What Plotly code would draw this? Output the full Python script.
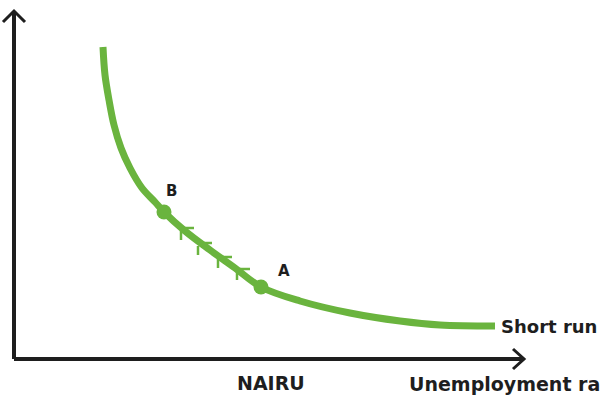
import plotly.graph_objects as go

H = 400
# Short-run Phillips curve (x: unemployment position, y: inflation position)
curve_x = [103, 105, 109, 114, 121, 130, 142, 155, 164, 185, 210, 235, 261, 300, 350, 400, 440, 495]
curve_y_px = [47, 75, 100, 125, 148, 168, 188, 202, 212, 231, 250, 268, 287, 301, 313, 321, 325, 326]
curve_y = [H - v for v in curve_y_px]

# Points on the curve
pt_labels = ["B", "A"]
pt_x = [164, 261]
pt_y = [H - 212, H - 287]

# Small direction marks between B and A
mark_v_x = [181, 198, 218, 237]
mark_v_top = [231, 246, 259, 271]
mark_v_bot = [240, 255, 268, 280]
mark_h_x0 = [184, 202, 222, 240]
mark_h_x1 = [194, 212, 232, 250]
mark_h_y = [228, 243, 257, 269]

# Axes
yaxis_x = [14, 14]
yaxis_y = [H - 359, H - 12]
xaxis_x = [14, 524]
xaxis_y = [H - 359, H - 359]
yarrow_x = [3, 14, 25]
yarrow_y = [H - 22, H - 11, H - 22]
xarrow_x = [513, 524, 513]
xarrow_y = [H - 349, H - 359, H - 369]

green = "#6ab43e"
dark = "#1e1e1e"

fig = go.Figure()

fig.add_trace(go.Scatter(x=yaxis_x, y=yaxis_y, mode="lines", line=dict(color=dark, width=4)))
fig.add_trace(go.Scatter(x=xaxis_x, y=xaxis_y, mode="lines", line=dict(color=dark, width=4)))
fig.add_trace(go.Scatter(x=yarrow_x, y=yarrow_y, mode="lines", line=dict(color=dark, width=3)))
fig.add_trace(go.Scatter(x=xarrow_x, y=xarrow_y, mode="lines", line=dict(color=dark, width=3)))

mx, my = [], []
for i in range(len(mark_v_x)):
    mx += [mark_v_x[i], mark_v_x[i], None, mark_h_x0[i], mark_h_x1[i], None]
    my += [H - mark_v_top[i], H - mark_v_bot[i], None, H - mark_h_y[i], H - mark_h_y[i], None]
fig.add_trace(go.Scatter(x=mx, y=my, mode="lines", line=dict(color=green, width=2.5)))

fig.add_trace(go.Scatter(x=curve_x, y=curve_y, mode="lines",
                         line=dict(color=green, width=7, shape="spline", smoothing=1.0)))

fig.add_trace(go.Scatter(x=pt_x, y=pt_y, mode="markers",
                         marker=dict(color=green, size=15)))

font = dict(family="DejaVu Sans", color=dark, weight="bold")
ann = [
    dict(x=171, y=H - 191, text="B", font=dict(size=15, **font)),
    dict(x=284, y=H - 271, text="A", font=dict(size=15, **font)),
    dict(x=499, y=H - 326, text="Short run", xanchor="left", font=dict(size=18, **font)),
    dict(x=271, y=H - 383, text="NAIRU", font=dict(size=19, **font)),
    dict(x=407, y=H - 384, text="Unemployment rate", xanchor="left", font=dict(size=19, **font)),
]
for a in ann:
    a.update(xref="x", yref="y", showarrow=False)
    a.setdefault("xanchor", "center")
    a["yanchor"] = "middle"

fig.update_layout(
    width=600, height=400,
    margin=dict(l=0, r=0, t=0, b=0),
    paper_bgcolor="white", plot_bgcolor="white",
    showlegend=False,
    annotations=ann,
    xaxis=dict(range=[0, 600], visible=False, fixedrange=True),
    yaxis=dict(range=[0, 400], visible=False, fixedrange=True),
)
fig.write_html("out.html", config={"displayModeBar": False},
               post_script="document.body.style.margin='0';document.body.style.overflow='hidden';")
